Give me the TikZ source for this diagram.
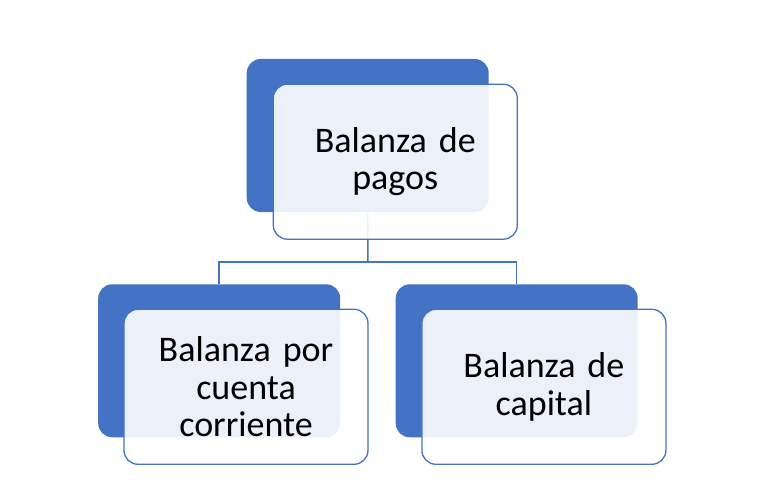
\documentclass[tikz,border=0pt]{standalone}
\usepackage{fontspec}
\setmainfont{Carlito}
\usetikzlibrary{backgrounds}
\definecolor{accent}{HTML}{4472C4}
\begin{document}
\begin{tikzpicture}[x=1pt,y=-1pt,
 back/.style={fill=accent, rounded corners=14pt, minimum width=242pt, minimum height=153pt, inner sep=0pt, draw=none},
 front/.style={fill=white, fill opacity=0.9, text opacity=1, draw=accent, draw opacity=1, line width=1.3pt, rounded corners=14pt, minimum width=244pt, minimum height=155pt, inner sep=0pt, align=center, text width=230pt, font=\fontsize{36}{37.5}\selectfont},
 link/.style={draw=accent, line width=1.5pt}]
\useasboundingbox (0,0) rectangle (768,492);
% top
\node[back] (tb) at (367.7,135.5) {};
\node[front] (tf) at (395.3,161.7) {Balanza de\\pagos};
% left
\node[back] (lb) at (219.2,360.8) {};
\node[front] (lf) at (246,386.8) {Balanza por\\cuenta\\corriente};
% right
\node[back] (rb) at (516.7,360.8) {};
\node[front] (rf) at (543.9,386.8) {Balanza de\\capital};
\coordinate (mid) at (368,262);
\begin{scope}[on background layer]
\draw[link] (tb.south) -- (mid);
\draw[link] (lb.north) |- (mid) -| (rb.north);
\end{scope}
\end{tikzpicture}
\end{document}
